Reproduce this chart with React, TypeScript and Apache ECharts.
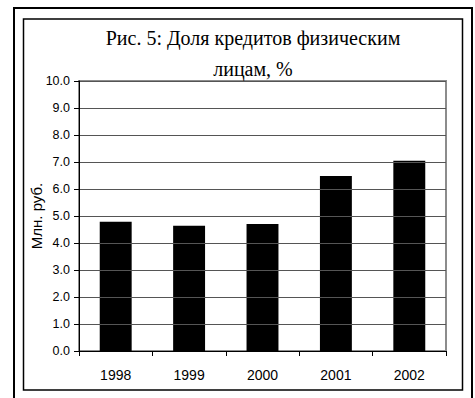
import React, { useEffect, useRef } from "react";
import * as echarts from "echarts";

const titleText = "Рис. 5: Доля кредитов физическим\nлицам, %";
const yAxisName = "Млн. руб.";
const categories = ["1998", "1999", "2000", "2001", "2002"];
const values = [4.79, 4.64, 4.7, 6.48, 7.05];

const SERIF = "Liberation Serif";
const SANS = "Liberation Sans";

export default function App() {
  const ref = useRef<HTMLDivElement>(null);
  useEffect(() => {
    if (!ref.current) return;
    const chart = echarts.init(ref.current, null, { renderer: "svg" });
    chart.setOption({
      animation: false,
      backgroundColor: "#ffffff",
      textStyle: { fontFamily: SANS },
      graphic: [
        {
          type: "rect",
          shape: { x: 14, y: 8, width: 458, height: 400 },
          style: { fill: "none", stroke: "#000", lineWidth: 2 },
          silent: true,
        },
        {
          type: "rect",
          shape: { x: 23.5, y: 19, width: 439, height: 371 },
          style: { fill: "none", stroke: "#000", lineWidth: 1.5 },
          silent: true,
        },
        {
          type: "text",
          x: 253,
          y: 22,
          silent: true,
          style: {
            text: titleText,
            fontFamily: SERIF,
            fontSize: 20,
            lineHeight: 31,
            fill: "#000",
            align: "center",
            verticalAlign: "top",
          },
        },
      ],
      grid: {
        left: 79,
        right: 29,
        top: 81,
        bottom: 47,
        show: true,
        borderColor: "#8c8c8c",
        borderWidth: 2,
      },
      xAxis: {
        type: "category",
        data: categories,
        axisLine: { show: true, lineStyle: { color: "#000", width: 1 } },
        axisTick: { show: true, alignWithLabel: false, length: 5, lineStyle: { color: "#000" } },
        axisLabel: {
          fontFamily: SANS,
          fontSize: 14,
          color: "#000",
          margin: 17,
        },
        z: 10,
      },
      yAxis: {
        type: "value",
        min: 0,
        max: 10,
        interval: 1,
        name: yAxisName,
        nameLocation: "middle",
        nameRotate: 90,
        nameGap: 35,
        nameMoveOverlap: false,
        nameTextStyle: {
          fontFamily: SANS,
          fontSize: 15,
          color: "#000",
        },
        axisLine: { show: true, lineStyle: { color: "#000", width: 1 } },
        axisTick: { show: true, length: 5, lineStyle: { color: "#000" } },
        axisLabel: {
          fontFamily: SANS,
          fontSize: 12.5,
          color: "#000",
          margin: 9,
          formatter: (v: number) => v.toFixed(1),
        },
        splitLine: { show: true, lineStyle: { color: "#555", width: 1 } },
        z: 10,
      },
      series: [
        {
          type: "bar",
          data: values,
          barWidth: "43.5%",
          itemStyle: { color: "#000" },
        },
      ],
    });
    return () => chart.dispose();
  }, []);
  return (
    <div
      ref={ref}
      style={{ position: "fixed", left: 0, top: 0, width: 475, height: 398 }}
    />
  );
}
